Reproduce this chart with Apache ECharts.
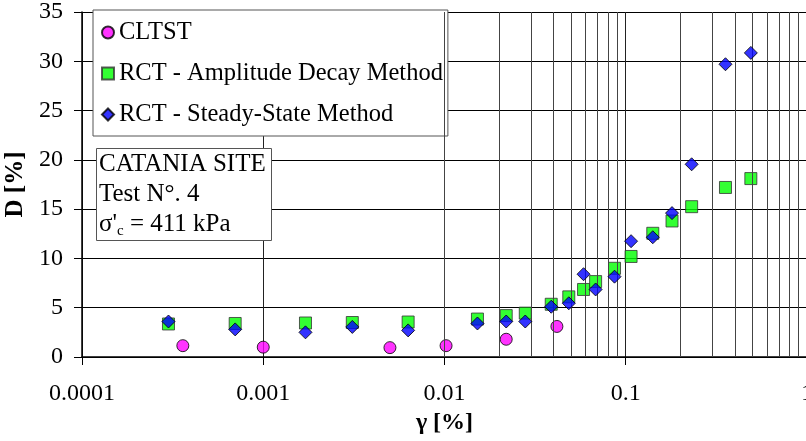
<!DOCTYPE html>
<html lang="en">
<head>
    <meta charset="UTF-8">
    <title>CATANIA SITE - Test 4</title>
    <script src="https://cdn.jsdelivr.net/npm/echarts@6/dist/echarts.min.js"></script>
    <style>
        html, body { margin: 0; padding: 0; background: #fff; }
        #chart { width: 806px; height: 441px; }
    </style>
</head>
<body>
    <div id="chart"></div>
    <script>
        // data: [gamma %, D %]
        const cltst = [
            [0.00036, 1.15], [0.0010, 1.0], [0.0050, 0.95],
            [0.0102, 1.15], [0.0219, 1.8], [0.0417, 3.1]
        ];
        const rctAmplitude = [
            [0.00030, 3.35], [0.00070, 3.4], [0.00171, 3.45], [0.0031, 3.5],
            [0.0063, 3.55], [0.0152, 3.85], [0.0219, 4.2], [0.0279, 4.45],
            [0.0388, 5.35], [0.0485, 6.1], [0.0585, 6.85], [0.0682, 7.65],
            [0.0867, 9.0], [0.107, 10.2], [0.141, 12.55], [0.180, 13.8],
            [0.231, 15.25], [0.355, 17.2], [0.49, 18.1]
        ];
        const rctSteady = [
            [0.00030, 3.6], [0.00070, 2.8], [0.00171, 2.5], [0.0031, 3.05],
            [0.0063, 2.7], [0.0152, 3.4], [0.0219, 3.6], [0.0279, 3.6],
            [0.0388, 5.1], [0.0485, 5.45], [0.0585, 8.4], [0.0682, 6.85],
            [0.0867, 8.15], [0.107, 11.75], [0.141, 12.15], [0.180, 14.6],
            [0.231, 19.55], [0.355, 29.7], [0.49, 30.85]
        ];
        const legendNames = ['CLTST', 'RCT - Amplitude Decay Method', 'RCT - Steady-State Method'];

        // minor log grid lines (2..9 in each decade)
        const minorLines = [];
        for (let d = -4; d < 0; d++) {
            for (let k = 2; k <= 9; k++) {
                minorLines.push({ xAxis: +(k * Math.pow(10, d)).toPrecision(3) });
            }
        }

        const font = 'Liberation Serif, Times New Roman, serif';
        const chart = echarts.init(document.getElementById('chart'));

        chart.setOption({
            backgroundColor: '#fff',
            animation: false,
            textStyle: { fontFamily: font, color: '#000' },
            grid: { left: 82, top: 12, width: 725, height: 345, outerBoundsMode: 'none' },
            legend: {
                left: 93, top: 10,
                orient: 'vertical',
                backgroundColor: '#fff',
                borderColor: '#555',
                borderWidth: 1,
                padding: [10, 5, 9, 8],
                itemGap: 16,
                itemWidth: 12, itemHeight: 12,
                textStyle: { fontFamily: font, fontSize: 24.5, color: '#000' },
                data: legendNames
            },
            title: {
                left: 96, top: 146,
                backgroundColor: '#fff',
                borderColor: '#555',
                borderWidth: 1,
                padding: [3, 6, 2, 3],
                text: '{a|CATANIA SITE}\n{a|Test N°. 4}\n{a|σ\'}{s|c}{a| = 411 kPa}',
                textStyle: {
                    rich: {
                        a: { fontFamily: font, fontSize: 25, fontWeight: 'normal', color: '#000', lineHeight: 30 },
                        s: { fontFamily: font, fontSize: 15, fontWeight: 'normal', color: '#000', lineHeight: 30, verticalAlign: 'bottom', padding: [12, 0, 0, 0] }
                    }
                }
            },
            xAxis: {
                type: 'log',
                logBase: 10,
                min: 0.0001,
                max: 1,
                name: 'γ [%]',
                nameLocation: 'middle',
                nameGap: 54,
                nameTextStyle: { fontFamily: font, fontSize: 24, fontWeight: 'bold', color: '#000' },
                axisLine: { show: true, onZero: false, lineStyle: { color: '#000', width: 1.5 } },
                axisTick: { show: true, inside: false, length: 8, lineStyle: { color: '#000' } },
                axisLabel: {
                    fontFamily: font, fontSize: 24, color: '#000', margin: 25,
                    formatter: v => String(+v.toPrecision(1))
                },
                splitLine: { show: true, lineStyle: { color: '#222', width: 1 } }
            },
            yAxis: {
                type: 'value',
                min: 0,
                max: 35,
                interval: 5,
                name: 'D [%]',
                nameLocation: 'middle',
                nameGap: 49,
                nameRotate: 90,
                nameTextStyle: { fontFamily: font, fontSize: 25, fontWeight: 'bold', color: '#000' },
                axisLine: { show: true, lineStyle: { color: '#000', width: 1.5 } },
                axisTick: { show: true, inside: false, length: 8, lineStyle: { color: '#000' } },
                axisLabel: { fontFamily: font, fontSize: 24, color: '#000', margin: 19 },
                splitLine: { show: true, lineStyle: { color: '#000', width: 1 } }
            },
            series: [
                {
                    name: 'grid-minor',
                    type: 'scatter',
                    data: [],
                    silent: true,
                    markLine: {
                        silent: true,
                        symbol: 'none',
                        animation: false,
                        label: { show: false },
                        lineStyle: { color: '#444', width: 1, type: 'solid' },
                        emphasis: { disabled: true },
                        data: minorLines
                    }
                },
                {
                    name: 'CLTST',
                    type: 'scatter',
                    symbol: 'circle',
                    symbolSize: 12,
                    itemStyle: { color: '#FF00FF', borderColor: '#000', borderWidth: 1 },
                    data: cltst,
                    z: 4
                },
                {
                    name: 'RCT - Amplitude Decay Method',
                    type: 'scatter',
                    symbol: 'rect',
                    symbolSize: 12,
                    itemStyle: { color: '#00FF00', borderColor: '#333', borderWidth: 1 },
                    data: rctAmplitude,
                    z: 3
                },
                {
                    name: 'RCT - Steady-State Method',
                    type: 'scatter',
                    symbol: 'diamond',
                    symbolSize: 13,
                    itemStyle: { color: '#0000FF', borderColor: '#000', borderWidth: 1 },
                    data: rctSteady,
                    z: 5
                }
            ]
        });
    </script>
</body>
</html>
